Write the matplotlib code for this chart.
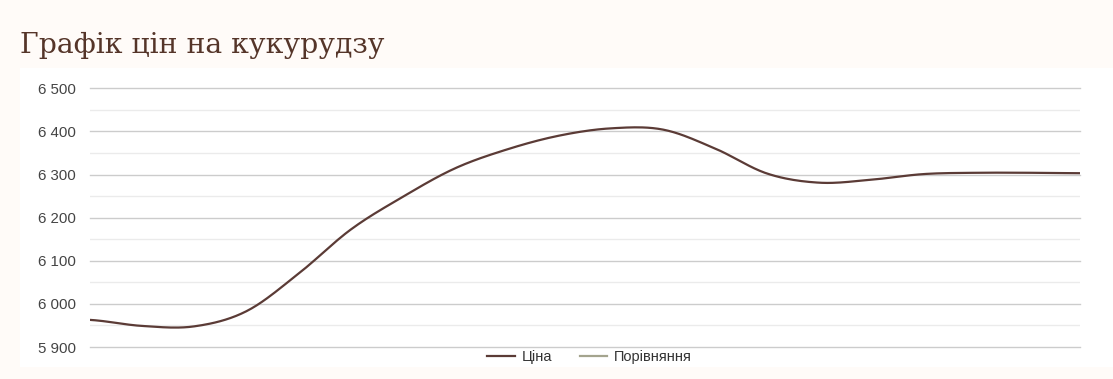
import numpy as np
import matplotlib
matplotlib.use("Agg")
import matplotlib.pyplot as plt
from matplotlib.patches import Rectangle
from matplotlib.lines import Line2D
from matplotlib.ticker import FixedLocator, FuncFormatter

title = "Графік цін на кукурудзу"
series_names = ["Ціна", "Порівняння"]
prices = [5963, 5949, 5948, 5983, 6070, 6172, 6248, 6314, 6358, 6390,
          6407, 6404, 6360, 6302, 6281, 6288, 6301, 6304, 6304, 6303]
y_ticks = [5900, 6000, 6100, 6200, 6300, 6400, 6500]

line_color = "#5b3b36"
comp_color = "#a4a48e"
bg_outer = "#fffbf8"

W, H = 1113, 379
fig = plt.figure(figsize=(W / 100, H / 100), dpi=100)
fig.patch.set_facecolor(bg_outer)
fig.add_artist(Rectangle((20 / W, 1 - 367 / H), (W - 20) / W, (367 - 68) / H,
                         transform=fig.transFigure, facecolor="white",
                         edgecolor="none", zorder=0))

fig.text(20 / W, 1 - 45 / H, title, fontsize=20.3, family="DejaVu Serif",
         color="#553529", va="center", ha="left")

ax = fig.add_axes([90 / W, 1 - 347.5 / H, 990 / W, (347.5 - 88) / H])
ax.set_facecolor("none")
ax.set_ylim(y_ticks[0] - 1, y_ticks[-1] + 0.5)
ax.set_xlim(0, len(prices) - 1)
ax.yaxis.set_major_locator(FixedLocator(y_ticks))
ax.yaxis.set_minor_locator(FixedLocator([v + 50 for v in y_ticks[:-1]]))
ax.yaxis.set_major_formatter(FuncFormatter(lambda v, p: f"{int(round(v)):,}".replace(",", " ")))
ax.grid(axis="y", which="major", color="#cccccc", linewidth=1)
ax.grid(axis="y", which="minor", color="#ebebeb", linewidth=1)
ax.set_axisbelow(True)
for gl in ax.get_ygridlines():
    gl.set_clip_on(False)
for s in ax.spines.values():
    s.set_visible(False)
ax.tick_params(axis="y", which="both", length=0, pad=10, labelsize=10.8,
               labelcolor="#444444")
for lbl in ax.get_yticklabels():
    lbl.set_family("Liberation Sans")
ax.set_xticks([])

# smooth rendering of the line through data points (Catmull-Rom)
x = np.arange(len(prices), dtype=float)
y = np.array(prices, dtype=float)
xs, ys = [], []
n = len(x)
for i in range(n - 1):
    p0 = y[i - 1] if i > 0 else y[i]
    p1, p2 = y[i], y[i + 1]
    p3 = y[i + 2] if i + 2 < n else y[i + 1]
    t = np.linspace(0, 1, 20, endpoint=False)
    m1 = (p2 - p0) / 2
    m2 = (p3 - p1) / 2
    h00 = 2 * t**3 - 3 * t**2 + 1
    h10 = t**3 - 2 * t**2 + t
    h01 = -2 * t**3 + 3 * t**2
    h11 = t**3 - t**2
    xs.append(x[i] + t)
    ys.append(h00 * p1 + h10 * m1 + h01 * p2 + h11 * m2)
xs.append([x[-1]])
ys.append([y[-1]])
ax.plot(np.concatenate(xs), np.concatenate(ys), color=line_color, linewidth=1.6,
        solid_capstyle="round")

handles = [Line2D([], [], color=line_color, linewidth=1.6),
           Line2D([], [], color=comp_color, linewidth=1.6)]
leg = fig.legend(handles, series_names, loc="center", bbox_to_anchor=(0.5295, 1 - 357 / H),
                 ncol=2, frameon=False, handlelength=1.9,
                 columnspacing=1.9, handletextpad=0.45,
                 prop={"family": "Liberation Sans", "size": 10.5})
for t in leg.get_texts():
    t.set_color("#333333")

fig.savefig("out.png", dpi=100, facecolor=fig.get_facecolor())
